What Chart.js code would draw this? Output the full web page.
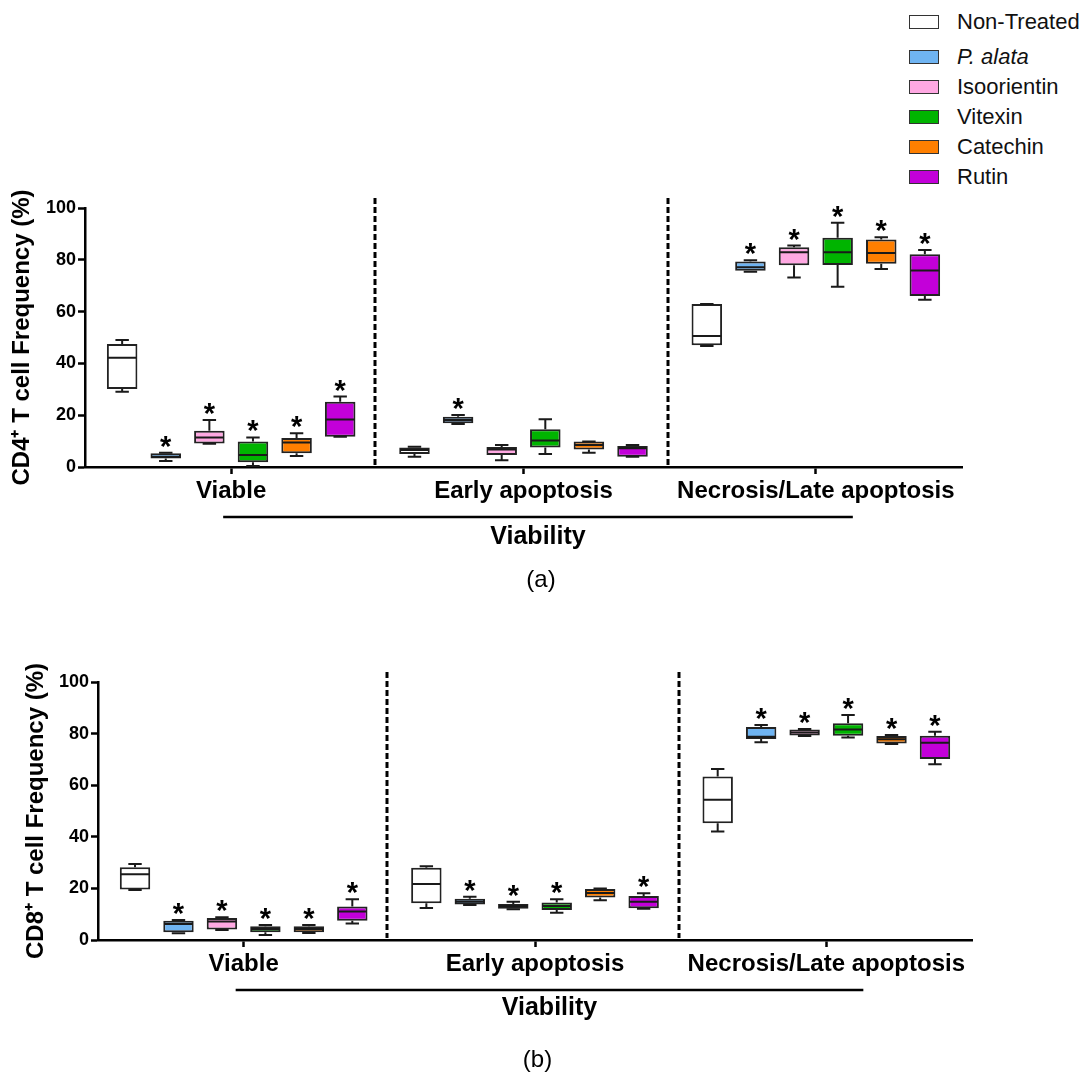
<!DOCTYPE html>
<html>
<head>
<meta charset="utf-8">
<script src="https://cdn.jsdelivr.net/npm/chart.js@4.4.1/dist/chart.umd.min.js"></script>
<style>
  body { margin: 0; background: #fff; width: 1086px; height: 1077px; position: relative; overflow: hidden;
         font-family: 'Liberation Sans', Arial, sans-serif; }
  #chartA { position: absolute; left: 0; top: 170px; }
  #chartB { position: absolute; left: 0; top: 640px; }
  #legend { position: absolute; left: 909px; top: 0; width: 177px; height: 200px; }
  .item { position: absolute; left: 0; height: 30px; display: flex; align-items: center; white-space: nowrap;
          font-size: 22px; color: #111; }
  .swatch { width: 28px; height: 12px; border: 1.5px solid #333; margin-right: 18px; }
</style>
</head>
<body>
<div id="legend"></div>
<canvas id="chartA" width="1086" height="430"></canvas>
<canvas id="chartB" width="1086" height="437"></canvas>
<script>
const categories = ['Viable', 'Early apoptosis', 'Necrosis/Late apoptosis'];
const groups = ['Non-Treated', 'P. alata', 'Isoorientin', 'Vitexin', 'Catechin', 'Rutin'];
const fills = ['#ffffff', '#6fb4f2', '#ffa8e2', '#00b400', '#ff7f00', '#c300d9'];

// rows = groups, columns = categories
const cd4Min = [
  [29.1, 4.0, 46.7],
  [2.3, 16.6, 75.4],
  [9.0, 2.6, 73.2],
  [0.4, 5.0, 69.6],
  [4.2, 5.5, 76.4],
  [11.7, 4.0, 64.6]
];
const cd4Q1 = [
  [30.1, 5.0, 47.0],
  [3.3, 16.9, 75.8],
  [9.1, 4.6, 77.9],
  [1.8, 7.5, 78.0],
  [5.3, 6.8, 78.5],
  [11.7, 4.0, 66.0]
];
const cd4Median = [
  [42.2, 6.6, 50.6],
  [4.0, 18.1, 77.1],
  [11.4, 6.8, 82.9],
  [4.6, 10.2, 82.9],
  [9.5, 8.5, 82.6],
  [18.3, 7.2, 75.9]
];
const cd4Q3 = [
  [47.5, 7.5, 62.9],
  [5.3, 19.4, 79.3],
  [14.0, 7.7, 84.8],
  [9.8, 14.6, 88.5],
  [11.2, 9.8, 87.8],
  [25.2, 8.1, 82.1]
];
const cd4Max = [
  [49.0, 7.8, 62.9],
  [5.5, 20.1, 79.8],
  [18.1, 8.5, 85.5],
  [11.4, 18.4, 94.3],
  [13.0, 9.8, 88.7],
  [27.2, 8.5, 83.8]
];
const cd4Stars = [
  [0, 0, 0],
  [1, 1, 1],
  [1, 0, 1],
  [1, 0, 1],
  [1, 0, 1],
  [1, 0, 1]
];

const cd8Min = [
  [19.4, 12.4, 42.1],
  [2.6, 13.6, 76.6],
  [3.9, 11.9, 79.1],
  [1.9, 10.6, 78.5],
  [2.7, 15.4, 76.0],
  [6.4, 12.1, 68.1]
];
const cd8Q1 = [
  [19.6, 14.2, 45.3],
  [3.0, 13.8, 77.9],
  [4.1, 12.1, 79.3],
  [3.0, 11.6, 79.2],
  [3.0, 16.5, 76.2],
  [7.5, 12.3, 70.2]
];
const cd8Median = [
  [25.5, 21.7, 54.4],
  [6.2, 14.8, 78.8],
  [7.2, 13.2, 80.4],
  [4.3, 13.2, 81.6],
  [4.3, 18.2, 77.8],
  [11.0, 14.8, 76.5]
];
const cd8Q3 = [
  [28.2, 28.0, 63.4],
  [7.5, 16.0, 82.6],
  [8.5, 14.0, 81.6],
  [5.3, 14.5, 84.0],
  [5.3, 19.8, 79.1],
  [13.0, 17.1, 79.2]
];
const cd8Max = [
  [29.5, 28.6, 66.3],
  [7.8, 16.8, 83.3],
  [8.8, 14.8, 81.8],
  [5.8, 15.8, 87.2],
  [5.8, 20.0, 79.5],
  [15.8, 18.1, 80.7]
];
const cd8Stars = [
  [0, 0, 0],
  [1, 1, 1],
  [1, 1, 1],
  [1, 1, 1],
  [1, 0, 1],
  [1, 1, 1]
];

const yTicks = [0, 20, 40, 60, 80, 100];
const FONT = "'Liberation Sans', Arial, sans-serif";

// legend (html)
const legendTops = [7, 42, 72, 102, 132, 162];
const legend = document.getElementById('legend');
groups.forEach((g, i) => {
  const row = document.createElement('div');
  row.className = 'item';
  row.style.top = legendTops[i] + 'px';
  const sw = document.createElement('span');
  sw.className = 'swatch';
  sw.style.background = fills[i];
  const txt = document.createElement('span');
  txt.textContent = g;
  if (g === 'P. alata') txt.style.fontStyle = 'italic';
  row.appendChild(sw);
  row.appendChild(txt);
  legend.appendChild(row);
});

// whiskers, medians and asterisks on top of the floating bars
const boxPlugin = {
  id: 'boxWhiskers',
  afterDatasetsDraw(chart) {
    const {ctx, scales: {y}} = chart;
    ctx.save();
    chart.data.datasets.forEach((ds, di) => {
      chart.getDatasetMeta(di).data.forEach((bar, i) => {
        const x = bar.x, half = bar.width / 2, cap = bar.width * 0.22;
        const yQ1 = y.getPixelForValue(ds.data[i][0]);
        const yQ3 = y.getPixelForValue(ds.data[i][1]);
        const yMin = y.getPixelForValue(ds.mins[i]);
        const yMax = y.getPixelForValue(ds.maxs[i]);
        const yMed = y.getPixelForValue(ds.medians[i]);
        ctx.strokeStyle = '#1a1a1a';
        ctx.lineWidth = 2;
        ctx.beginPath();
        ctx.moveTo(x, yQ3); ctx.lineTo(x, yMax);
        ctx.moveTo(x - cap, yMax); ctx.lineTo(x + cap, yMax);
        ctx.moveTo(x, yQ1); ctx.lineTo(x, yMin);
        ctx.moveTo(x - cap, yMin); ctx.lineTo(x + cap, yMin);
        ctx.moveTo(x - half + 1, yMed); ctx.lineTo(x + half - 1, yMed);
        ctx.stroke();
        if (ds.stars[i]) {
          ctx.fillStyle = '#000';
          ctx.font = 'bold 29px ' + FONT;
          ctx.textAlign = 'center';
          ctx.textBaseline = 'alphabetic';
          ctx.fillText('*', x, yMax + 3);
        }
      });
    });
    ctx.restore();
  }
};

// dashed separators, the line above "Viability", axis caption and panel letter
const decorPlugin = {
  id: 'decor',
  beforeDatasetsDraw(chart) {
    const {ctx, chartArea, scales: {x}} = chart;
    ctx.save();
    ctx.strokeStyle = '#000';
    ctx.lineWidth = 3;
    ctx.setLineDash([6, 3]);
    for (let i = 0; i < categories.length - 1; i++) {
      const xp = Math.round((x.getPixelForTick(i) + x.getPixelForTick(i + 1)) / 2) - 2;
      ctx.beginPath();
      ctx.moveTo(xp, chartArea.top - 10);
      ctx.lineTo(xp, chartArea.bottom - 2);
      ctx.stroke();
    }
    ctx.restore();
  },
  afterDraw(chart) {
    const {ctx, scales: {x}} = chart;
    const p = chart.options.plugins.decor;
    const yLine = x.top + 50;
    const x0 = x.getPixelForTick(0) - 8, x1 = x.getPixelForTick(2) + 37;
    const xc = (x0 + x1) / 2;
    ctx.save();
    ctx.strokeStyle = '#000';
    ctx.lineWidth = 2.5;
    ctx.beginPath();
    ctx.moveTo(x0, yLine);
    ctx.lineTo(x1, yLine);
    ctx.stroke();
    ctx.fillStyle = '#000';
    ctx.textAlign = 'center';
    ctx.textBaseline = 'middle';
    ctx.font = 'bold 25px ' + FONT;
    ctx.fillText(p.axisTitle, xc, x.bottom - 15);
    ctx.font = '24px ' + FONT;
    ctx.fillText(p.label, xc + p.labelDx, x.bottom + p.labelDy);
    ctx.restore();
  }
};

function makeChart(id, p) {
  const datasets = groups.map((g, gi) => ({
    label: g,
    data: categories.map((c, ci) => [p.q1[gi][ci], p.q3[gi][ci]]),
    mins: p.min[gi],
    medians: p.median[gi],
    maxs: p.max[gi],
    stars: p.stars[gi],
    backgroundColor: fills[gi],
    borderColor: '#222',
    borderWidth: 2,
    borderSkipped: false,
    categoryPercentage: 0.895,
    barPercentage: 0.7
  }));

  return new Chart(document.getElementById(id), {
    type: 'bar',
    data: { labels: categories, datasets: datasets },
    plugins: [decorPlugin, boxPlugin],
    options: {
      responsive: false,
      animation: false,
      events: [],
      layout: { padding: { top: p.padTop, right: p.padRight, bottom: p.padBottom, left: 0 } },
      plugins: {
        legend: { display: false },
        tooltip: { enabled: false },
        decor: { axisTitle: 'Viability', label: p.label, labelDx: p.labelDx, labelDy: p.labelDy }
      },
      scales: {
        x: {
          offset: true,
          grid: { display: true, offset: false, drawOnChartArea: false, drawTicks: true,
                  tickLength: 7, tickWidth: 2.5, tickColor: '#000', color: '#000' },
          border: { display: true, color: '#000', width: 2.5 },
          ticks: { color: '#000', font: { family: FONT, size: 24, weight: 'bold' },
                   padding: 3, maxRotation: 0, autoSkip: false },
          afterFit(scale) { scale.height = p.xHeight; }
        },
        y: {
          min: 0,
          max: 100,
          afterBuildTicks(scale) { scale.ticks = yTicks.map(v => ({ value: v })); },
          grid: { display: true, drawOnChartArea: false, drawTicks: true,
                  tickLength: 7, tickWidth: 2.5, tickColor: '#000', color: '#000' },
          border: { display: true, color: '#000', width: 2.5 },
          ticks: { color: '#000', font: { family: FONT, size: 18, weight: 'bold' }, padding: 2 },
          title: { display: true, text: p.yTitle, color: '#000',
                   font: { family: FONT, size: 24, weight: 'bold' }, padding: { top: p.yTitlePad, bottom: 0 } },
          afterFit(scale) { scale.width = p.yWidth; }
        }
      }
    }
  });
}

makeChart('chartA', {
  min: cd4Min, q1: cd4Q1, median: cd4Median, q3: cd4Q3, max: cd4Max, stars: cd4Stars,
  yTitle: 'CD4\u207A T cell Frequency (%)', label: '(a)',
  padTop: 38, padRight: 124, padBottom: 48, yWidth: 85, yTitlePad: 8, xHeight: 85,
  labelDx: 3, labelDy: 28
});

makeChart('chartB', {
  min: cd8Min, q1: cd8Q1, median: cd8Median, q3: cd8Q3, max: cd8Max, stars: cd8Stars,
  yTitle: 'CD8\u207A T cell Frequency (%)', label: '(b)',
  padTop: 42, padRight: 114, padBottom: 54, yWidth: 98, yTitlePad: 22, xHeight: 83,
  labelDx: -12, labelDy: 37
});
</script>
</body>
</html>
